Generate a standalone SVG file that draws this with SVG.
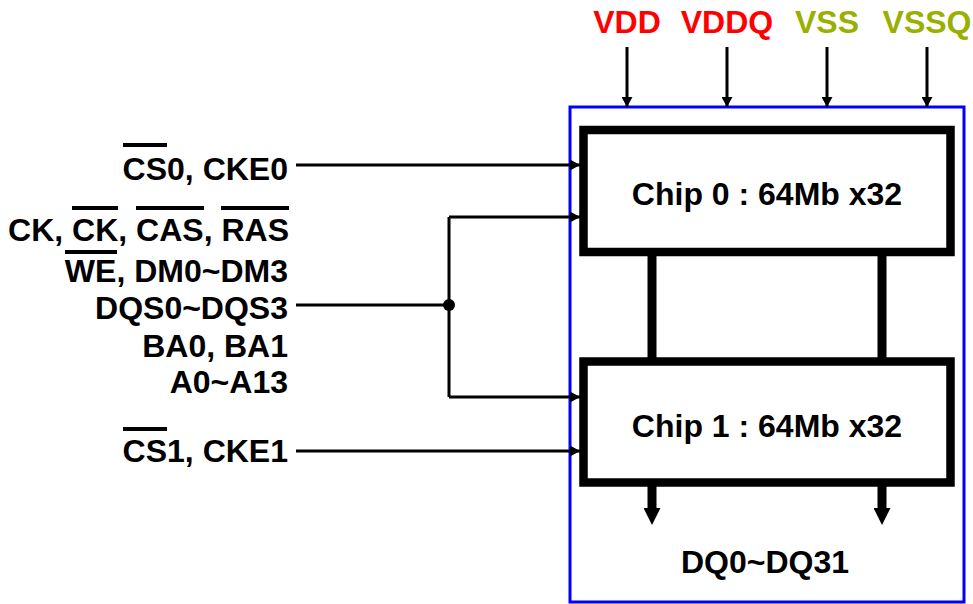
<svg xmlns="http://www.w3.org/2000/svg" width="973" height="604" viewBox="0 0 973 604">
<style>
text{font-family:"Liberation Sans",Arial,sans-serif;font-weight:bold;font-size:32px;fill:#000}
.r{text-anchor:end}
.c{text-anchor:middle}
.vdd{fill:#ff0000}
.vss{fill:#99b000}
.thin{stroke:#000;stroke-width:3;fill:none}
.ov{stroke:#000;stroke-width:4}
.chip{fill:#fff;stroke:#000;stroke-width:8.5}
.bar{stroke:#000;stroke-width:9;fill:none}
</style>
<defs>
<marker id="ah" markerUnits="userSpaceOnUse" markerWidth="10" markerHeight="11" refX="10" refY="5.5" orient="auto">
<path d="M0,0 L10,5.5 L0,11 z" fill="#000"/>
</marker>
<marker id="bh" markerUnits="userSpaceOnUse" markerWidth="17" markerHeight="17" refX="0" refY="8.5" orient="auto">
<path d="M0,0 L17,8.5 L0,17 z" fill="#000"/>
</marker>
</defs>
<rect id="module" x="570" y="107" width="394" height="495" fill="#fff" stroke="#0000ff" stroke-width="3"/>
<g id="connectors">
<path class="thin" d="M296,165 H580" marker-end="url(#ah)"/>
<path class="thin" d="M296,305 H449"/>
<path class="thin" d="M449,217 V397"/>
<path class="thin" d="M449,217 H580" marker-end="url(#ah)"/>
<path class="thin" d="M449,397 H580" marker-end="url(#ah)"/>
<circle cx="449" cy="305" r="6" fill="#000"/>
<path class="thin" d="M296,451 H580" marker-end="url(#ah)"/>
<path class="thin" d="M627,47 V107" marker-end="url(#ah)"/>
<path class="thin" d="M727,47 V107" marker-end="url(#ah)"/>
<path class="thin" d="M827,47 V107" marker-end="url(#ah)"/>
<path class="thin" d="M927,47 V107" marker-end="url(#ah)"/>
<path class="bar" d="M652,252 V362"/>
<path class="bar" d="M882,252 V362"/>
<path class="bar" d="M652,482 V508" marker-end="url(#bh)"/>
<path class="bar" d="M882,482 V508" marker-end="url(#bh)"/>
</g>
<g id="chip0">
<rect class="chip" x="583.5" y="130" width="367" height="122"/>
<text class="c" x="767" y="205">Chip 0 : 64Mb x32</text>
</g>
<g id="chip1">
<rect class="chip" x="583.5" y="361.5" width="367" height="121"/>
<text class="c" x="767" y="437">Chip 1 : 64Mb x32</text>
</g>
<g id="power-labels">
<text class="c vdd" x="627" y="33">VDD</text>
<text class="c vdd" x="727" y="33">VDDQ</text>
<text class="c vss" x="827" y="33">VSS</text>
<text class="c vss" x="927" y="33">VSSQ</text>
</g>
<g id="signal-labels">
<text class="r" x="288" y="180">CS0, CKE0</text>
<line class="ov" x1="123" y1="145" x2="167" y2="145"/>
<text class="r" x="289" y="241">CK, CK, CAS, RAS</text>
<line class="ov" x1="72" y1="208" x2="118" y2="208"/>
<line class="ov" x1="136" y1="208" x2="204" y2="208"/>
<line class="ov" x1="221" y1="208" x2="289" y2="208"/>
<text class="r" x="288" y="282">WE, DM0~DM3</text>
<line class="ov" x1="65" y1="252" x2="117" y2="252"/>
<text class="r" x="288" y="319">DQS0~DQS3</text>
<text class="r" x="288" y="357">BA0, BA1</text>
<text class="r" x="288" y="393">A0~A13</text>
<text class="r" x="288" y="462">CS1, CKE1</text>
<line class="ov" x1="123" y1="429" x2="167" y2="429"/>
</g>
<g id="output-label">
<text class="c" x="765" y="573">DQ0~DQ31</text>
</g>
</svg>
